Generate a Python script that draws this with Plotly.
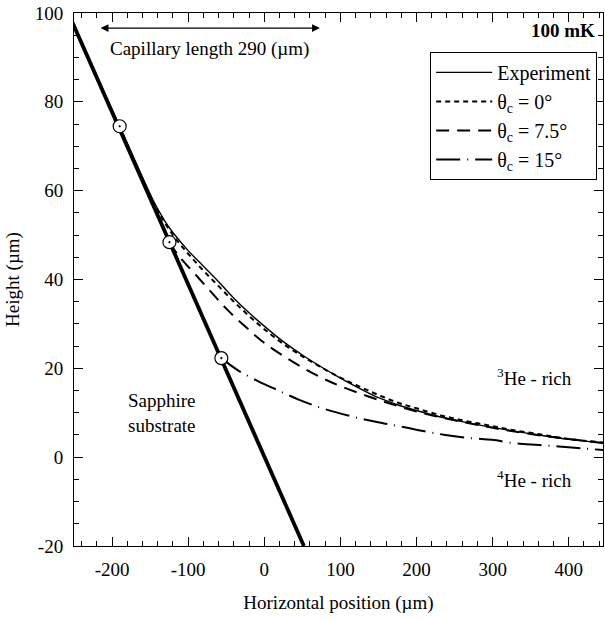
import plotly.graph_objects as go

# ---------------- data ----------------
substrate_x = [-255, 52]
substrate_y = [99.0, -20.0]

exp_x = [-255, -190, -160, -145, -130, -115, -100, -80, -60, -40, -20, 0, 25, 50, 75, 100,
         125, 150, 175, 200, 230, 260, 290, 320, 360, 400, 445]
exp_y = [99.0, 74.5, 63.0, 57.5, 53.0, 49.5, 46.5, 43.0, 39.5, 35.8, 32.5, 29.5, 26.0, 23.0, 20.3, 17.8,
         15.5, 13.4, 11.8, 10.5, 9.1, 8.0, 7.0, 6.1, 5.0, 4.0, 3.2]

th0_x = [-190, -160, -140, -120, -100, -80, -60, -40, -20, 0, 25, 50, 75, 100, 125, 150,
         175, 200, 230, 260, 290, 320, 360, 400, 445]
th0_y = [74.5, 62.5, 55.5, 50.0, 45.8, 42.0, 38.5, 35.0, 31.8, 28.8, 25.5, 22.7, 20.2, 17.9,
         15.9, 14.0, 12.3, 11.0, 9.5, 8.3, 7.3, 6.3, 5.2, 4.1, 3.3]

th75_x = [-125, -110, -94, -70, -48, -25, -2, 25, 50, 75, 100, 150, 200, 250, 300, 350, 400, 445]
th75_y = [48.4, 44.8, 41.8, 37.2, 33.1, 29.4, 26.0, 22.8, 20.2, 17.9, 16.0, 12.9, 10.3, 8.3, 6.6, 5.2, 4.1, 3.2]

th15_x = [-56.4, -35, -7, 17.5, 46, 80, 125, 157, 179, 214, 238, 273, 299, 330, 361, 387, 417, 445]
th15_y = [22.3, 19.6, 17.0, 15.1, 12.9, 10.8, 8.75, 7.6, 6.9, 5.7, 5.0, 4.25, 3.9, 3.1, 2.75, 2.4, 2.0, 1.6]

contact_x = [-190, -124.6, -56.4]
contact_y = [74.5, 48.4, 22.3]

x_range = [-250, 445]
y_range = [-20, 100]
x_tickvals = [-200, -100, 0, 100, 200, 300, 400]
x_ticktext = ["-200", "-100", "0", "100", "200", "300", "400"]
y_tickvals = [-20, 0, 20, 40, 60, 80, 100]
y_ticktext = ["-20", "0", "20", "40", "60", "80", "100"]

capillary_start = -217
capillary_end = 73

FONT = "Liberation Serif"

fig = go.Figure()

fig.add_trace(go.Scatter(x=substrate_x, y=substrate_y, mode="lines",
                         line=dict(color="black", width=3.8), showlegend=False, hoverinfo="skip"))
fig.add_trace(go.Scatter(x=exp_x, y=exp_y, mode="lines", name="Experiment",
                         line=dict(color="black", width=1.4, shape="spline")))
fig.add_trace(go.Scatter(x=th0_x, y=th0_y, mode="lines", name="θ<sub>c</sub> = 0°",
                         line=dict(color="black", width=2, dash="5px,4px", shape="spline")))
fig.add_trace(go.Scatter(x=th75_x, y=th75_y, mode="lines", name="θ<sub>c</sub> = 7.5°",
                         line=dict(color="black", width=2, dash="13px,8px", shape="spline")))
fig.add_trace(go.Scatter(x=th15_x, y=th15_y, mode="lines", name="θ<sub>c</sub> = 15°",
                         line=dict(color="black", width=2, dash="24px,7px,1px,7px", shape="spline")))
fig.add_trace(go.Scatter(x=contact_x, y=contact_y, mode="markers", showlegend=False,
                         marker=dict(symbol="circle-dot", size=13, color="white",
                                     line=dict(color="black", width=1.2))))
# invisible trace that carries the mirrored (top / right) tick axes
fig.add_trace(go.Scatter(x=contact_x[:1], y=contact_y[:1], xaxis="x2", yaxis="y2", mode="markers",
                         marker=dict(opacity=0), showlegend=False, hoverinfo="skip"))

annotations = [
    dict(x=capillary_end, y=96.6, ax=capillary_start, ay=96.6, xref="x", yref="y",
         axref="x", ayref="y", showarrow=True, arrowside="end+start", arrowhead=2,
         arrowsize=1.3, arrowwidth=1.2, arrowcolor="black", text=""),
    dict(x=-72, y=91.8, xref="x", yref="y", showarrow=False,
         text="Capillary length 290 (µm)", font=dict(size=19, family=FONT)),
    dict(x=1.0, y=96.0, xref="paper", yref="y", xanchor="right", showarrow=False,
         text="<b>100 mK</b>", font=dict(size=19, family=FONT), xshift=-6),
    dict(x=-134, y=10.0, xref="x", yref="y", showarrow=False,
         text="Sapphire<br>substrate", font=dict(size=19, family=FONT)),
    dict(x=355, y=18.0, xref="x", yref="y", showarrow=False,
         text="<sup>3</sup>He - rich", font=dict(size=19, family=FONT)),
    dict(x=355, y=-5.0, xref="x", yref="y", showarrow=False,
         text="<sup>4</sup>He - rich", font=dict(size=19, family=FONT)),
]

fig.update_layout(template="simple_white")

fig.update_layout(
    xaxis=dict(range=x_range, tickmode="array", tickvals=x_tickvals, ticktext=x_ticktext,
               showline=True, linecolor="black", mirror=True,
               ticks="inside", ticklen=9, tickcolor="black", showgrid=False, zeroline=False,
               minor=dict(dtick=20, tick0=0, ticks="inside", ticklen=5, tickcolor="black"),
               tickfont=dict(size=19, color="black", family=FONT), ticklabelstandoff=6,
               title=dict(text="Horizontal position (µm)", font=dict(size=19, family=FONT), standoff=16)),
    yaxis=dict(range=y_range, tickmode="array", tickvals=y_tickvals, ticktext=y_ticktext,
               showline=True, linecolor="black", mirror=True,
               ticks="inside", ticklen=9, tickcolor="black", showgrid=False, zeroline=False,
               minor=dict(dtick=5, tick0=0, ticks="inside", ticklen=5, tickcolor="black"),
               tickfont=dict(size=19, color="black", family=FONT), ticklabelstandoff=6,
               title=dict(text="Height (µm)", font=dict(size=19, family=FONT), standoff=10)),
    xaxis2=dict(overlaying="x", side="top", anchor="y", range=x_range,
                tickmode="array", tickvals=x_tickvals,
                showticklabels=False, showline=False, showgrid=False, zeroline=False,
                ticks="inside", ticklen=9, tickcolor="black",
                minor=dict(dtick=20, tick0=0, ticks="inside", ticklen=5, tickcolor="black")),
    yaxis2=dict(overlaying="y", side="right", anchor="x", range=y_range,
                tickmode="array", tickvals=y_tickvals,
                showticklabels=False, showline=False, showgrid=False, zeroline=False,
                ticks="inside", ticklen=9, tickcolor="black",
                minor=dict(dtick=5, tick0=0, ticks="inside", ticklen=5, tickcolor="black")),
)

fig.update_layout(
    width=605, height=620,
    margin=dict(l=74, r=2, t=13, b=74),
    font=dict(family=FONT, color="black", size=19),
    annotations=annotations,
    legend=dict(x=0.989, y=0.927, xanchor="right", yanchor="top",
                bordercolor="black", borderwidth=1, bgcolor="white",
                font=dict(size=20, family=FONT), itemwidth=56, tracegroupgap=0),
)

fig.write_html("out.html")
